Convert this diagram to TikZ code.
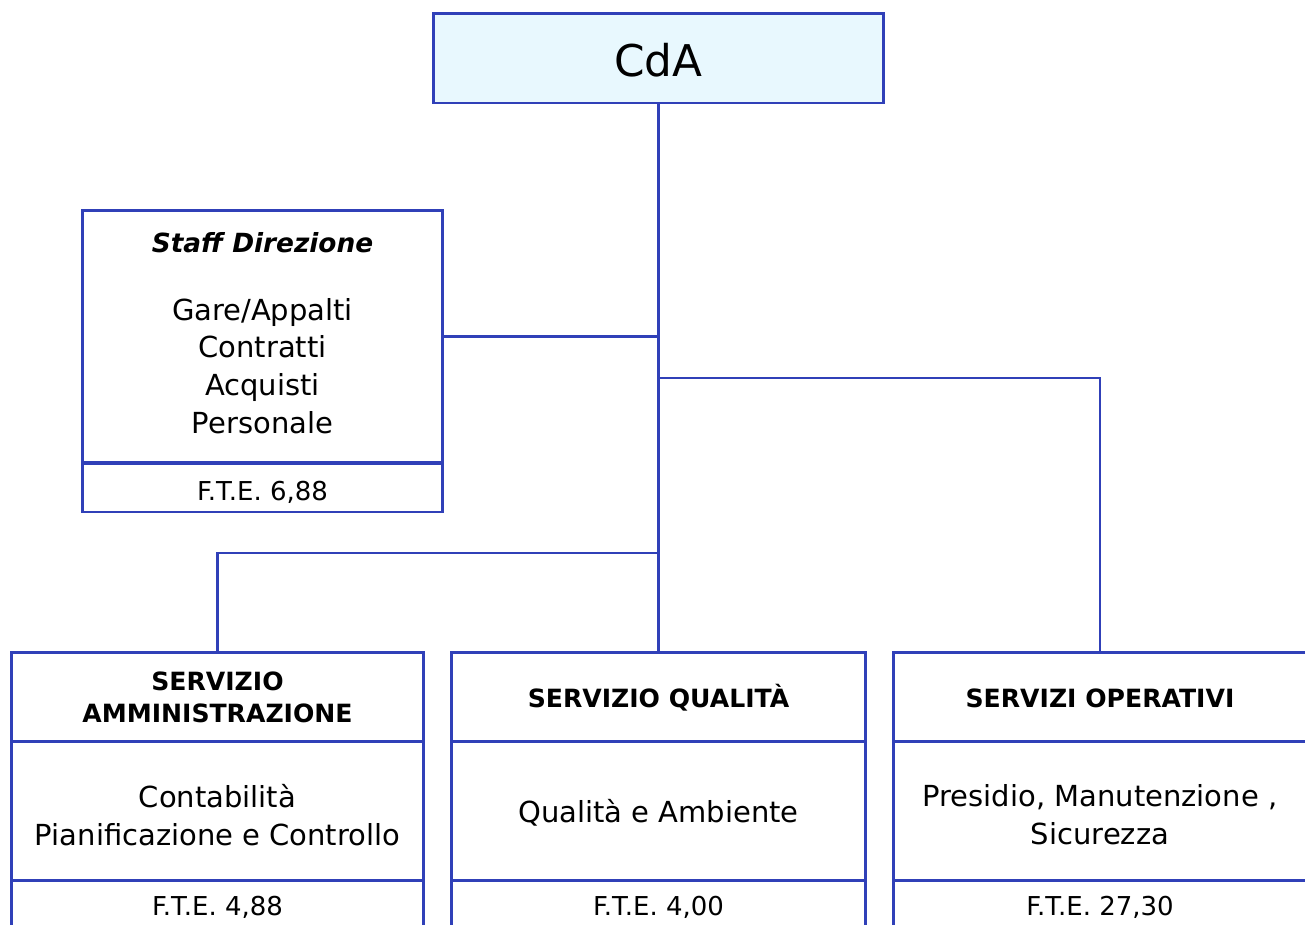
\documentclass[tikz,border=0pt]{standalone}
\usepackage{fontspec}
\setmainfont{DejaVu Sans}
\definecolor{boxblue}{RGB}{48,64,184}
\definecolor{cdafill}{RGB}{232,248,254}
\begin{document}
\begin{tikzpicture}[x=0.02cm,y=-0.02cm,
  box/.style={draw=boxblue, line width=1.7pt, inner sep=0pt},
  conn/.style={draw=boxblue, line width=1.25pt},
  txt/.style={inner sep=0pt, align=center, text=black},
  bodyfont/.style={font=\fontsize{16.5}{21.5}\selectfont},
  headfont/.style={font=\fontsize{14.3}{18.2}\selectfont\bfseries},
  ftefont/.style={font=\fontsize{14.8}{17}\selectfont}]
\useasboundingbox (0,0) rectangle (1305,924);
\clip (0,0) rectangle (1305,924);
\fill[white] (0,0) rectangle (1305,924);

% top box
\node[box, fill=cdafill, minimum width=9.02cm, minimum height=1.8cm] (cda) at (658.5,58) {};
\node[txt, font=\fontsize{24.9}{28}\selectfont] (cdat) at (658.5,60) {CdA};

% staff
\node[box, minimum width=7.22cm, minimum height=5.06cm] (staff) at (262.5,336.5) {};
\node[box, minimum width=7.22cm, minimum height=0.98cm] (stafffte) at (262.5,487.5) {};
\node[txt, font=\fontsize{15}{18}\selectfont\bfseries\itshape] (stafft) at (262.5,243) {Staff Direzione};
\node[txt, bodyfont] (staffl) at (262.5,366) {Gare/Appalti\\Contratti\\Acquisti\\Personale};
\node[txt, ftefont] (staffft) at (262.5,492) {F.T.E. 6,88};

% bottom boxes
\node[box, minimum width=8.26cm, minimum height=1.78cm] (ahead) at (217.5,696.5) {};
\node[box, minimum width=8.26cm, minimum height=2.78cm] (abody) at (217.5,810.5) {};
\node[box, minimum width=8.26cm, minimum height=1.6cm] (afte) at (217.5,920) {};
\node[box, minimum width=8.3cm, minimum height=1.78cm] (qhead) at (658.5,696.5) {};
\node[box, minimum width=8.3cm, minimum height=2.78cm] (qbody) at (658.5,810.5) {};
\node[box, minimum width=8.3cm, minimum height=1.6cm] (qfte) at (658.5,920) {};
\node[box, minimum width=8.28cm, minimum height=1.78cm] (ohead) at (1100,696.5) {};
\node[box, minimum width=8.28cm, minimum height=2.78cm] (obody) at (1100,810.5) {};
\node[box, minimum width=8.28cm, minimum height=1.6cm] (ofte) at (1100,920) {};

\node[txt, headfont] (aht) at (217.5,697) {SERVIZIO\\AMMINISTRAZIONE};
\node[txt, headfont] (qht) at (658.5,698) {SERVIZIO QUALITÀ};
\node[txt, headfont] (oht) at (1100,698) {SERVIZI OPERATIVI};
\node[txt, bodyfont] (abt) at (217.5,815) {Contabilità\\Pianificazione e Controllo};
\node[txt, bodyfont] (qbt) at (658.5,813) {Qualità e Ambiente};
\node[txt, bodyfont] (obt) at (1100,815) {Presidio, Manutenzione ,\\Sicurezza};
\node[txt, ftefont] (aft) at (217.5,907) {F.T.E. 4,88};
\node[txt, ftefont] (qft) at (658.5,907) {F.T.E. 4,00};
\node[txt, ftefont] (oft) at (1100,907) {F.T.E. 27,30};

% connectors
\coordinate (jr) at (658.5,378);
\coordinate (jl) at (658.5,553);
\draw[conn] (cda.south) -- (qhead.north);
\draw[conn] (staff.east) -- (staff.east -| cda.south);
\draw[conn] (jr) -| (ohead.north);
\draw[conn] (jl) -| (ahead.north);
\end{tikzpicture}
\end{document}
